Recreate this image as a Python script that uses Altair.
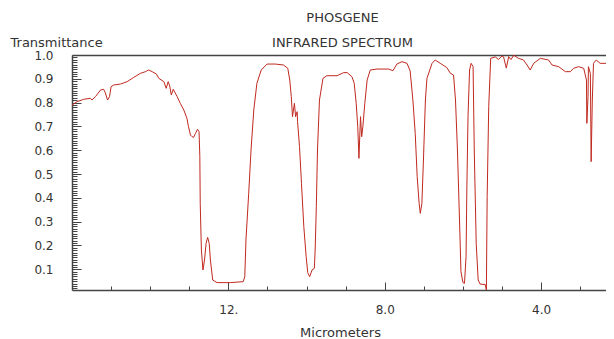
import altair as alt
import pandas as pd

# wavelength (micrometers), left to right
um = [16.00, 15.87, 15.70, 15.53, 15.49, 15.40, 15.27, 15.19, 15.15, 15.09,
      15.04, 15.00, 14.93, 14.76, 14.59, 14.42, 14.25, 14.12, 14.04, 13.95,
      13.84, 13.78, 13.65, 13.59, 13.54, 13.50, 13.46, 13.41, 13.31, 13.23,
      13.14, 13.06, 13.02, 12.97, 12.93, 12.89, 12.84, 12.79, 12.75, 12.73,
      12.72, 12.69, 12.65, 12.61, 12.57, 12.53, 12.49, 12.46, 12.40, 12.29,
      11.95, 11.62, 11.58, 11.55, 11.48, 11.42, 11.35, 11.27, 11.16, 11.01,
      10.80, 10.59, 10.48, 10.43, 10.39, 10.36, 10.31, 10.28, 10.24, 10.23,
      10.18, 10.13, 10.07, 10.01, 9.97, 9.92, 9.86, 9.80, 9.78, 9.75,
      9.72, 9.67, 9.58, 9.48, 9.22, 9.05, 8.96, 8.84, 8.78, 8.73,
      8.69, 8.66, 8.62, 8.59, 8.56, 8.51, 8.45, 8.37, 8.20, 7.90,
      7.79, 7.69, 7.56, 7.43, 7.35, 7.28, 7.22, 7.17, 7.12, 7.09,
      7.05, 7.01, 6.96, 6.92, 6.79, 6.71, 6.58, 6.41, 6.32, 6.24,
      6.19, 6.14, 6.08, 6.05, 6.00, 5.96, 5.92, 5.90, 5.87, 5.83,
      5.79, 5.74, 5.71, 5.66, 5.61, 5.56, 5.43, 5.40, 5.38, 5.34,
      5.29, 5.17, 5.09, 5.00, 4.96, 4.89, 4.83, 4.77, 4.70, 4.58,
      4.45, 4.36, 4.28, 4.19, 4.02, 3.81, 3.72, 3.55, 3.38, 3.25,
      3.17, 3.04, 2.91, 2.84, 2.83, 2.80, 2.79, 2.74, 2.72, 2.69,
      2.66, 2.59, 2.49, 2.31, 2.19, 2.15]

# transmittance
trans = [0.790, 0.804, 0.814, 0.818, 0.811, 0.825, 0.853, 0.856, 0.842, 0.811,
         0.825, 0.867, 0.874, 0.878, 0.888, 0.906, 0.923, 0.930, 0.937, 0.930,
         0.920, 0.902, 0.888, 0.860, 0.888, 0.870, 0.832, 0.856, 0.825, 0.797,
         0.769, 0.734, 0.699, 0.664, 0.657, 0.654, 0.671, 0.688, 0.678, 0.573,
         0.377, 0.181, 0.097, 0.139, 0.209, 0.234, 0.209, 0.139, 0.055, 0.044,
         0.044, 0.048, 0.069, 0.223, 0.419, 0.601, 0.769, 0.881, 0.937, 0.962,
         0.962, 0.958, 0.944, 0.895, 0.825, 0.741, 0.797, 0.741, 0.762, 0.720,
         0.615, 0.461, 0.279, 0.153, 0.086, 0.069, 0.097, 0.104, 0.181, 0.363,
         0.601, 0.811, 0.902, 0.913, 0.913, 0.926, 0.926, 0.909, 0.881, 0.797,
         0.699, 0.566, 0.741, 0.657, 0.699, 0.797, 0.895, 0.937, 0.941, 0.941,
         0.934, 0.962, 0.972, 0.965, 0.933, 0.811, 0.671, 0.489, 0.377, 0.335,
         0.377, 0.559, 0.811, 0.902, 0.965, 0.979, 0.965, 0.947, 0.923, 0.916,
         0.811, 0.601, 0.265, 0.090, 0.044, 0.041, 0.153, 0.433, 0.741, 0.937,
         0.965, 0.951, 0.601, 0.209, 0.055, 0.038, 0.036, 0.013, 0.405, 0.783,
         0.986, 0.992, 0.981, 0.996, 0.992, 0.945, 0.993, 0.981, 0.999, 0.986,
         0.979, 0.958, 0.937, 0.965, 0.986, 0.979, 0.958, 0.951, 0.930, 0.930,
         0.944, 0.951, 0.944, 0.895, 0.713, 0.825, 0.951, 0.923, 0.552, 0.811,
         0.965, 0.979, 0.965, 0.965, 0.958, 0.954]

x_labeled = [12, 8, 4]
x_minor = [3, 5, 6, 7, 9, 10, 11, 13, 14, 15]
y_labeled = [0.1, 0.2, 0.3, 0.4, 0.5, 0.6, 0.7, 0.8, 0.9, 1.0]
y_minor = [round(0.02 + 0.01 * k, 2) for k in range(98)]

title_lines = ["PHOSGENE", "INFRARED SPECTRUM"]

W, H = 534, 235
df = pd.DataFrame({"um": um, "T": trans, "i": list(range(len(um)))})

xs = alt.Scale(domain=[2.34, 16], reverse=True, nice=False, zero=False)
ys = alt.Scale(domain=[0.013, 1.0], nice=False, zero=False)

base = alt.Chart(df)

line = base.mark_line(color="#c0291f", strokeWidth=1, clip=True).encode(
    x=alt.X("um:Q", scale=xs, axis=alt.Axis(
        orient="bottom", values=x_labeled, ticks=False, labelPadding=14,
        labelFlush=False,
        labelExpr="datum.value == 12 ? '12.' : format(datum.value, '.1f')",
        title="Micrometers", titleX=268, titleY=46,
        titleBaseline="alphabetic", titleFontSize=13)),
    y=alt.Y("T:Q", scale=ys, axis=alt.Axis(
        orient="left", values=y_labeled, format=".1f", ticks=False, labelPadding=19,
        title="Transmittance", titleAngle=0, titleAlign="left", titleFontSize=13,
        titleBaseline="alphabetic", titleX=-62, titleY=-9)),
    order="i:Q",
)

major_ticks = base.mark_line(opacity=0).encode(
    x=alt.X("um:Q", scale=xs, axis=alt.Axis(
        orient="top", offset=-H, values=x_labeled, labels=False, domain=False,
        tickSize=8, title=None)),
    y=alt.Y("T:Q", scale=ys, axis=alt.Axis(
        orient="right", offset=-W, values=y_labeled, labels=False, domain=False,
        tickSize=9, title=None)),
    order="i:Q",
)

minor_ticks = base.mark_line(opacity=0).encode(
    x=alt.X("um:Q", scale=xs, axis=alt.Axis(
        orient="top", offset=-H, values=x_minor, labels=False, domain=False,
        tickSize=4, title=None)),
    y=alt.Y("T:Q", scale=ys, axis=alt.Axis(
        orient="right", offset=-W, values=y_minor, labels=False, domain=False,
        tickSize=5, title=None)),
    order="i:Q",
)

top_frame = base.mark_line(opacity=0).encode(
    x=alt.X("um:Q", scale=xs, axis=alt.Axis(
        orient="top", offset=0, labels=False, ticks=False, domain=True,
        title=title_lines, titleX=270, titleY=-44, titleBaseline="top",
        titleFontSize=13, titleLineHeight=25)),
    y=alt.Y("T:Q", scale=ys, axis=None),
    order="i:Q",
)

chart = alt.layer(line, major_ticks, minor_ticks, top_frame).resolve_axis(
    x="independent", y="independent"
).properties(
    width=W, height=H,
    autosize=alt.AutoSizeParams(type="none"),
    padding={"left": 64, "top": 47, "right": 0, "bottom": 49},
).configure_axis(
    labelFont="DejaVu Sans", labelFontSize=12, labelColor="#333333",
    titleFont="DejaVu Sans", titleFontSize=13, titleFontWeight="normal",
    titleColor="#333333", domainColor="#444444", domainWidth=1.5,
    tickColor="#444444", tickWidth=1, grid=False,
).configure_view(stroke=None)

chart.save("out.html", embed_options={"renderer": "svg", "actions": False})
